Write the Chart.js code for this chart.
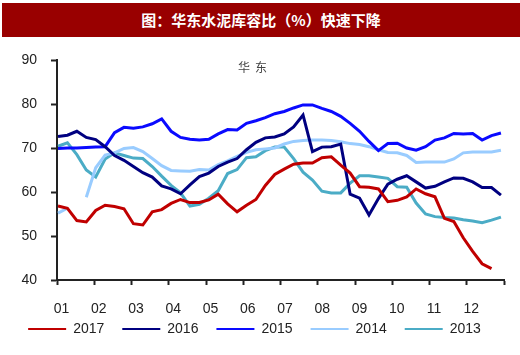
<!DOCTYPE html>
<html>
<head>
<meta charset="utf-8">
<script src="https://cdn.jsdelivr.net/npm/chart.js@4/dist/chart.umd.min.js"></script>
<style>
  html, body { margin: 0; padding: 0; background: #fff; }
  #wrap { position: relative; width: 520px; height: 355px; overflow: hidden; }
  #title { position: absolute; left: 2px; top: 3px; width: 518px; height: 34px; background: #990000;
    color: #fff; font: bold 15px "Noto Sans CJK SC", sans-serif; line-height: 34px; text-align: center; z-index: 2; }
  #c { position: absolute; left: 0; top: 0; }
</style>
</head>
<body>
<div id="wrap">
  <div id="title">图：华东水泥库容比（%）快速下降</div>
  <canvas id="c" width="520" height="355"></canvas>
</div>
<script>
const monthLabels = ['01','02','03','04','05','06','07','08','09','10','11','12'];
const yTicks = [40, 50, 60, 70, 80, 90];
const seriesNames = ['2017', '2016', '2015', '2014', '2013'];
const seriesColors = ['#C00000', '#000080', '#0A0AFF', '#99CCFF', '#4BACC6'];
const regionLabel = '华东';

const v2017 = [56.8,56.3,53.5,53.2,55.8,57,56.7,56.2,52.8,52.5,55.5,56,57.4,58.3,57.6,57.6,58.2,59.5,57.3,55.5,57,58.3,61.5,64,65.2,66.3,66.6,66.6,67.8,68,66.1,64.3,61.2,61.1,60.7,57.8,58.1,58.9,60.7,59.6,58.9,54,53.3,49.6,46.5,43.7,42.6];
const v2016 = [72.6,72.9,73.8,72.4,71.9,70.3,68.3,67.2,65.8,64.4,63.4,61.4,60.7,59.6,61.6,63.5,64.3,65.8,66.8,67.6,69.6,71.3,72.3,72.5,73.2,74.8,77.5,69.2,70.2,70.3,70.9,59.5,58.6,54.8,58.5,61.8,62.9,63.7,62.3,60.9,61.3,62.3,63.2,63.1,62.3,61,61,59.3];
const v2015 = [69.9,70,70,70.1,70.2,70.3,73.5,74.7,74.5,74.8,75.5,76.6,73.8,72.4,72,71.8,72,73.2,74.2,74.1,75.6,76.2,76.9,77.8,78.3,79.1,79.8,79.8,79,78.3,77.2,75.6,73.8,71.5,69.4,71,71.1,70,69.5,70.3,71.8,72.3,73.3,73.2,73.3,71.8,72.8,73.4];
const v2014 = [55.2,56.3,null,58.8,65.5,68.4,68.9,69.9,70.1,69.2,67.6,66,64.9,64.8,64.7,65.1,65,66.2,67.1,68.1,69,69.6,69.8,70,70.9,71.5,71.7,71.8,71.8,71.7,71.4,71,70.8,70.3,69.6,69,68.9,68.3,66.7,66.8,66.8,66.8,67.5,68.9,69.1,69.1,69.1,69.5];
const v2013 = [70.4,71.2,68.5,65,63.4,67.5,68.9,68.3,67.7,67.6,65.8,63.6,61.5,59.8,56.8,57.2,58.6,60.3,64.2,65.1,67.8,68,69.4,70.2,70.2,67.6,64.5,62.7,60.2,59.8,59.8,62,63.7,63.7,63.4,63.1,61.2,61.1,57.5,55,54.4,54.2,54.1,53.7,53.4,53,53.6,54.3];

const weekStep = 0.253; // months per sampled week
const allValues = [v2017, v2016, v2015, v2014, v2013];
const toPoints = arr => arr.map((v, i) => ({ x: 0.027 + i * weekStep, y: v }));

const datasets = allValues.map((arr, k) => ({
  label: seriesNames[k],
  data: toPoints(arr),
  borderColor: seriesColors[k],
  backgroundColor: seriesColors[k],
  borderWidth: 3,
  pointRadius: 0,
  tension: 0,
  spanGaps: false,
  fill: false
}));

const labelPlugin = {
  id: 'regionLabel',
  afterDraw(chart) {
    const ctx = chart.ctx;
    ctx.save();
    ctx.font = '12px "Noto Sans CJK SC", sans-serif';
    ctx.fillStyle = '#444';
    ctx.textAlign = 'center';
    ctx.textBaseline = 'middle';
    try { ctx.letterSpacing = '5px'; } catch (e) {}
    ctx.fillText(regionLabel, 255, 67);
    ctx.restore();
  }
};

const axisColor = '#222';
new Chart(document.getElementById('c'), {
  type: 'line',
  data: { datasets },
  plugins: [labelPlugin],
  options: {
    responsive: false,
    devicePixelRatio: 1,
    animation: false,
    layout: { padding: { left: 0, right: 11, top: 60, bottom: 9 } },
    plugins: {
      tooltip: { enabled: false },
      legend: {
        position: 'bottom',
        labels: {
          boxWidth: 38,
          boxHeight: 2,
          padding: 18,
          color: '#222',
          font: { family: '"Liberation Sans", Arial, sans-serif', size: 14 },
          generateLabels: (chart) => Chart.defaults.plugins.legend.labels.generateLabels(chart).map(l => ({ ...l, lineWidth: 0 }))
        }
      }
    },
    scales: {
      x: {
        type: 'linear',
        min: 0, max: 12,
        afterBuildTicks: (s) => { s.ticks = Array.from({ length: 13 }, (_, i) => ({ value: i })); },
        afterFit: (s) => { s.height = 24; s._computeLabelArea = () => null; },
        border: { display: true, color: axisColor, width: 2 },
        grid: { drawOnChartArea: false, drawTicks: true, tickLength: 5, tickColor: axisColor, tickWidth: 2 },
        ticks: {
          autoSkip: false, maxRotation: 0, padding: 16, labelOffset: 4.5,
          color: '#222',
          font: { family: '"Liberation Sans", Arial, sans-serif', size: 14 },
          callback: (v) => (v < 12 ? monthLabels[v] : '')
        }
      },
      y: {
        min: 40, max: 90,
        afterBuildTicks: (s) => { s.ticks = yTicks.map(v => ({ value: v })); },
        afterFit: (s) => { s.width = 57; },
        border: { display: true, color: axisColor, width: 2 },
        grid: { drawOnChartArea: false, drawTicks: true, tickLength: 6, tickColor: axisColor, tickWidth: 2 },
        ticks: {
          padding: 14,
          color: '#222',
          font: { family: '"Liberation Sans", Arial, sans-serif', size: 14 }
        }
      }
    }
  }
});
</script>
</body>
</html>
